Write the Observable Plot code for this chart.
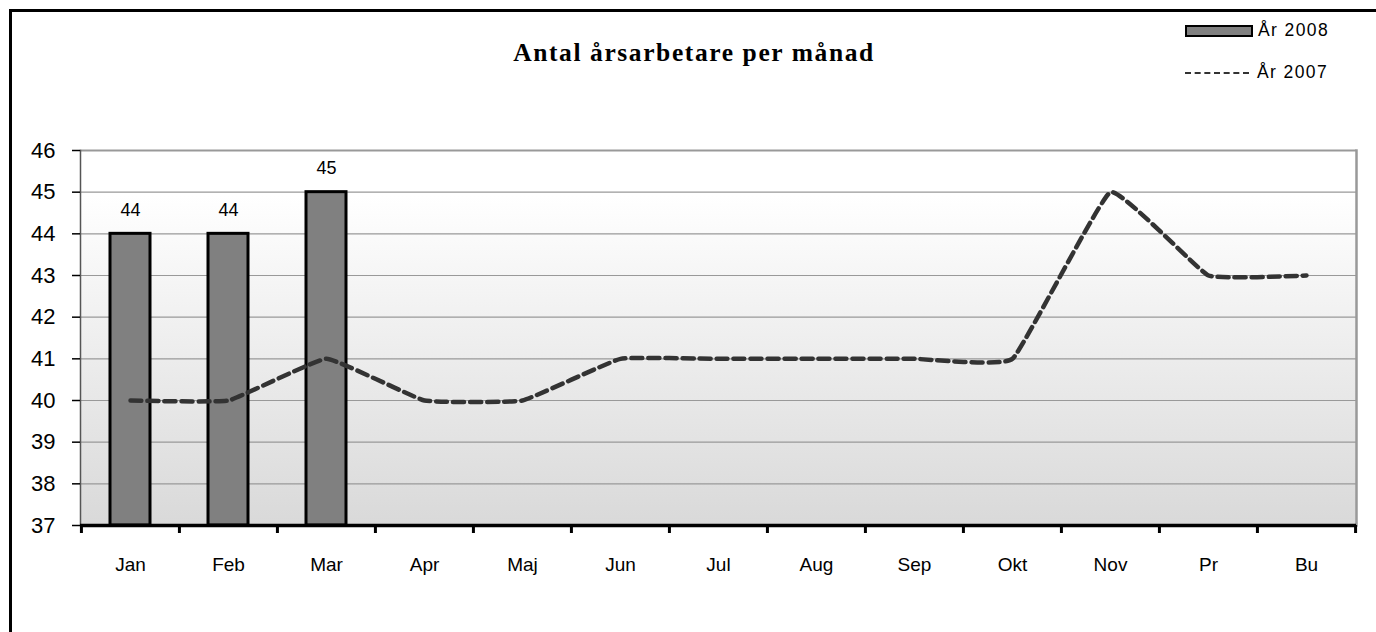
<!DOCTYPE html>
<html>
<head>
<meta charset="utf-8">
<script src="https://cdn.jsdelivr.net/npm/d3@7"></script>
<script src="https://cdn.jsdelivr.net/npm/@observablehq/plot@0.6"></script>
<style>
  html, body { margin: 0; padding: 0; background: #fff; }
  #wrap { position: relative; width: 1376px; height: 632px; overflow: hidden; font-family: "Liberation Sans", Arial, sans-serif; }
  #frame { position: absolute; left: 9px; top: 9px; width: 1400px; height: 700px; border: 3px solid #000; box-sizing: border-box; pointer-events: none; }
  #title { position: absolute; left: 694px; top: 38px; transform: translateX(-50%); font-family: "Liberation Serif", "Times New Roman", serif; font-weight: bold; font-size: 25.5px; letter-spacing: 1.6px; white-space: nowrap; }
  .leg { position: absolute; left: 1185px; display: flex; align-items: center; font-size: 17.5px; letter-spacing: 1.4px; color: #000; }
  .sw { width: 64px; height: 8px; background: #808080; border: 2px solid #000; margin-right: 5px; }
  .dl { width: 64px; height: 0; border-top: 2px dashed #333; margin-right: 8px; }
  #chart { position: absolute; left: 0; top: 0; }
</style>
</head>
<body>
<div id="wrap">
  <div id="chart"></div>
  <div id="frame"></div>
  <div id="title">Antal årsarbetare per månad</div>
  <div class="leg" style="top:20px"><div class="sw"></div>År 2008</div>
  <div class="leg" style="top:62px"><div class="dl"></div>År 2007</div>
</div>
<script>
const months = ["Jan","Feb","Mar","Apr","Maj","Jun","Jul","Aug","Sep","Okt","Nov","Pr","Bu"];
const values2008 = [44, 44, 45];
const values2007 = [40, 40, 41, 40, 40, 41, 41, 41, 41, 41, 45, 43, 43];
const yTicks = [37, 38, 39, 40, 41, 42, 43, 44, 45, 46];

const bars = values2008.map((v, i) => ({month: months[i], value: v}));
const line = values2007.map((v, i) => ({month: months[i], value: v}));

const W = 1376, H = 632, mL = 80, mR = 20, mT = 150, mB = 107;
const step = (W - mL - mR) / months.length;

const plot = Plot.plot({
  width: W, height: H,
  marginLeft: mL, marginRight: mR, marginTop: mT, marginBottom: mB,
  style: {fontFamily: "'Liberation Sans', Arial, sans-serif", color: "#000", background: "transparent"},
  x: {type: "band", domain: months, padding: 0, label: null},
  y: {type: "linear", domain: [37, 46], label: null},
  marks: [
    Plot.frame({fill: "url(#bggrad)", stroke: null}),
    Plot.gridY(yTicks, {stroke: "#999", strokeOpacity: 1, strokeWidth: 1.2}),
    Plot.ruleY([46], {stroke: "#999", strokeWidth: 2}),
    Plot.frame({anchor: "right", stroke: "#999", strokeWidth: 2.5}),
    Plot.frame({anchor: "left", stroke: "#555", strokeWidth: 1.5}),
    Plot.barY(bars, {x: "month", y1: 37, y2: "value", fill: "#808080", stroke: "#000", strokeWidth: 3, insetLeft: 29, insetRight: 29}),
    Plot.text(bars, {x: "month", y: "value", text: d => String(d.value), dy: -24, fontSize: 18, letterSpacing: 1, fill: "#000"}),
    Plot.line(line, {x: "month", y: "value", stroke: "#333", strokeWidth: 4.5, strokeDasharray: "11,6", curve: "cardinal", tension: 0.7, strokeLinecap: "round"}),
    Plot.axisY(yTicks, {tickSize: 8, tickPadding: 17, fontSize: 22, letterSpacing: 1, stroke: "#000", strokeWidth: 1.5}),
    Plot.ruleY([37], {stroke: "#000", strokeWidth: 3.5}),
    Plot.ruleX(months, {x: d => d, y1: 37, y2: 37, insetBottom: -8, dx: -step / 2, stroke: "#000", strokeWidth: 3}),
    Plot.ruleX(months.slice(-1), {x: d => d, y1: 37, y2: 37, insetBottom: -8, dx: step / 2, stroke: "#000", strokeWidth: 3}),
    Plot.axisX({tickSize: 0, tickPadding: 32, fontSize: 19, letterSpacing: 1.8})
  ]
});
document.getElementById("chart").appendChild(plot);

const svg = d3.select(plot);
const defs = svg.insert("defs", ":first-child");
const g = defs.append("linearGradient").attr("id", "bggrad").attr("x1", 0).attr("y1", 0).attr("x2", 0).attr("y2", 1);
g.append("stop").attr("offset", "0%").attr("stop-color", "#ffffff");
g.append("stop").attr("offset", "12%").attr("stop-color", "#ffffff");
g.append("stop").attr("offset", "100%").attr("stop-color", "#d9d9d9");
</script>
</body>
</html>
